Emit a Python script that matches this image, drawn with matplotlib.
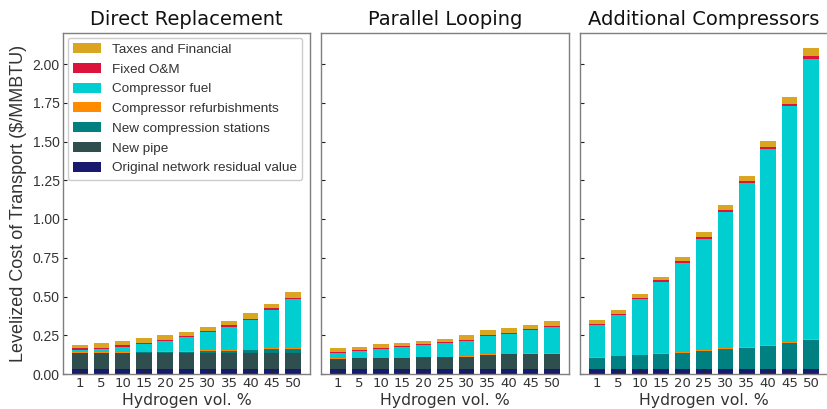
import matplotlib
matplotlib.use("Agg")
import matplotlib.pyplot as plt
import numpy as np

h2_pct = ["1", "5", "10", "15", "20", "25", "30", "35", "40", "45", "50"]
panel_titles = ["Direct Replacement", "Parallel Looping", "Additional Compressors"]
component_labels = ["Original network residual value", "New pipe", "New compression stations",
                    "Compressor refurbishments", "Compressor fuel", "Fixed O&M", "Taxes and Financial"]
component_colors = ["#191970", "#2F4F4F", "#008080", "#FF8C00", "#00CED1", "#DC143C", "#DAA520"]

# Direct Replacement
dr_residual = [0.032] * 11
dr_pipe = [0.103, 0.103, 0.103, 0.103, 0.103, 0.103, 0.103, 0.103, 0.103, 0.105, 0.105]
dr_comp = [0.0, 0.0, 0.001, 0.005, 0.007, 0.009, 0.012, 0.015, 0.018, 0.023, 0.026]
dr_refurb = [0.005] * 11
dr_fuel = [0.017, 0.022, 0.035, 0.049, 0.066, 0.088, 0.117, 0.150, 0.190, 0.248, 0.314]
dr_om = [0.008, 0.008, 0.008, 0.008, 0.008, 0.008, 0.008, 0.009, 0.010, 0.010, 0.011]
dr_tax = [0.025, 0.028, 0.029, 0.028, 0.029, 0.028, 0.028, 0.030, 0.033, 0.031, 0.034]

# Parallel Looping
pl_residual = [0.032] * 11
pl_pipe = [0.065, 0.069, 0.069, 0.069, 0.075, 0.075, 0.080, 0.093, 0.095, 0.097, 0.099]
pl_comp = [0.0] * 11
pl_refurb = [0.004] * 11
pl_fuel = [0.032, 0.043, 0.056, 0.067, 0.074, 0.087, 0.099, 0.116, 0.127, 0.149, 0.170]
pl_om = [0.007] * 11
pl_tax = [0.028, 0.021, 0.023, 0.023, 0.023, 0.023, 0.027, 0.030, 0.032, 0.029, 0.032]

# Additional Compressors
ac_residual = [0.032] * 11
ac_pipe = [0.0] * 11
ac_comp = [0.073, 0.082, 0.088, 0.099, 0.106, 0.116, 0.127, 0.138, 0.149, 0.166, 0.187]
ac_refurb = [0.005, 0.005, 0.005, 0.005, 0.005, 0.006, 0.008, 0.006, 0.006, 0.006, 0.006]
ac_fuel = [0.206, 0.260, 0.357, 0.458, 0.573, 0.717, 0.876, 1.054, 1.265, 1.525, 1.809]
ac_om = [0.008, 0.009, 0.010, 0.010, 0.010, 0.012, 0.012, 0.013, 0.014, 0.015, 0.018]
ac_tax = [0.024, 0.025, 0.024, 0.024, 0.027, 0.035, 0.035, 0.036, 0.037, 0.045, 0.053]

panels = [
    [dr_residual, dr_pipe, dr_comp, dr_refurb, dr_fuel, dr_om, dr_tax],
    [pl_residual, pl_pipe, pl_comp, pl_refurb, pl_fuel, pl_om, pl_tax],
    [ac_residual, ac_pipe, ac_comp, ac_refurb, ac_fuel, ac_om, ac_tax],
]

W, H = 827, 409
fig = plt.figure(figsize=(W / 100, H / 100), dpi=100)
lefts = [63, 321, 580]
widths = [247, 248, 248]
bottom_px, top_px = 374, 33

text_col = "#333333"
spine_col = "#7f7f7f"
x = np.arange(len(h2_pct))
axes = []
for i, comps in enumerate(panels):
    ax = fig.add_axes([lefts[i] / W, (H - bottom_px) / H, widths[i] / W, (bottom_px - top_px) / H])
    axes.append(ax)
    base = np.zeros(len(h2_pct))
    handles = []
    for vals, col, lab in zip(comps, component_colors, component_labels):
        b = ax.bar(x, vals, bottom=base, width=0.73, color=col, label=lab, edgecolor="none")
        handles.append(b)
        base = base + np.array(vals)
    ax.set_xlim(-0.8, 10.8)
    ax.set_ylim(0, 2.2)
    ax.set_xticks(x)
    ax.set_xticklabels(h2_pct, fontsize=9.5, color=text_col, family="DejaVu Sans")
    ax.set_yticks(np.arange(0, 2.01, 0.25))
    ax.tick_params(direction="in", length=3, width=0.8, color="#222222", pad=2.5)
    if i == 0:
        ax.set_yticklabels([f"{v:.2f}" for v in np.arange(0, 2.01, 0.25)],
                           fontsize=10, color=text_col, family="Liberation Sans")
        ax.set_ylabel("Levelized Cost of Transport ($/MMBTU)", fontsize=13,
                      color=text_col, family="Liberation Sans", labelpad=4)
    else:
        ax.set_yticklabels([])
    ax.set_xlabel("Hydrogen vol. %", fontsize=11.3, color=text_col, family="DejaVu Sans", labelpad=2)
    ax.set_title(panel_titles[i], fontsize=14, color="#111111", family="DejaVu Sans", pad=6)
    for s in ax.spines.values():
        s.set_color(spine_col)
        s.set_linewidth(1.0)
    if i == 0:
        leg = ax.legend(handles[::-1], component_labels[::-1], loc="upper left",
                        prop={"family": "Liberation Sans", "size": 9.7},
                        labelspacing=0.53, handlelength=2.1, handleheight=0.75,
                        handletextpad=0.8, borderaxespad=0.35, frameon=True, fancybox=True,
                        edgecolor="#cccccc", framealpha=1.0, labelcolor=text_col)

fig.savefig("out.png", dpi=100)
